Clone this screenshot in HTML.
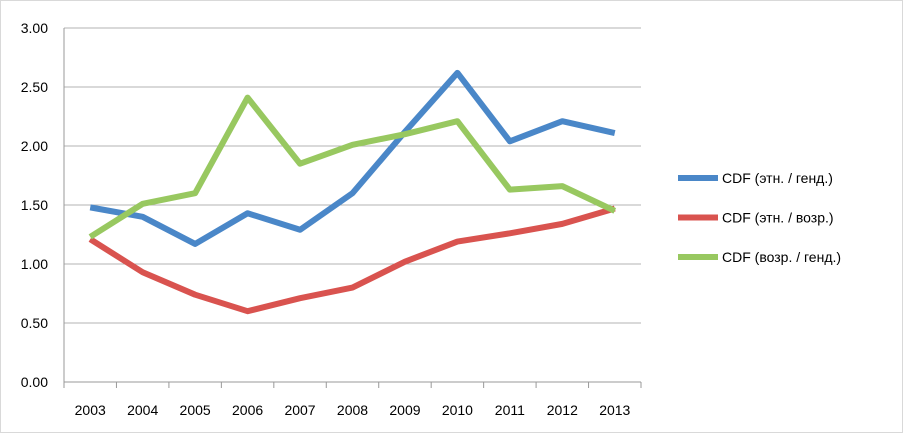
<!DOCTYPE html>
<html><head><meta charset="utf-8"><style>
body{margin:0;background:#fff;}
svg{display:block;font-family:"Liberation Sans",Arial,sans-serif;}
</style></head><body>
<svg id="c" width="903" height="433">
<rect x="0.5" y="0.5" width="902" height="432" fill="#fff" stroke="#d9d9d9"/>
<g id="grid"></g><g id="axes"></g><g id="series"></g><g id="legend"></g>
</svg>
<script>
const categories=["2003","2004","2005","2006","2007","2008","2009","2010","2011","2012","2013"];
const yTicks=[0,0.5,1,1.5,2,2.5,3];
const seriesNames=["CDF (этн. / генд.)","CDF (этн. / возр.)","CDF (возр. / генд.)"];
const blueValues=[1.48,1.40,1.17,1.43,1.29,1.60,2.12,2.62,2.04,2.21,2.11];
const redValues=[1.21,0.93,0.74,0.60,0.71,0.80,1.02,1.19,1.26,1.34,1.47];
const greenValues=[1.23,1.51,1.60,2.41,1.85,2.01,2.10,2.21,1.63,1.66,1.45];
const colors=["#4a87c8","#d9534f","#98c860"];
const NS="http://www.w3.org/2000/svg";
const L=64,R=641,T=28,B=382;
const bw=(R-L)/categories.length;
const x=i=>L+bw*(i+0.5);
const y=v=>B-(B-T)*v/3;
function mk(tag,attrs,parent,text){const e=document.createElementNS(NS,tag);for(const k in attrs)e.setAttribute(k,attrs[k]);if(text!==undefined)e.textContent=text;document.getElementById(parent).appendChild(e);return e;}
yTicks.forEach(t=>{
 const g=mk("line",{x1:L,x2:R,y1:y(t),y2:y(t),stroke:t===0?"#999":"#b3b3b3","stroke-width":1},"grid");
 
 
 const lb=mk("text",{x:L-16,y:y(t)+5,"text-anchor":"end","font-size":14,fill:"#000"},"axes",t.toFixed(2));
 
 
});
const ax=mk("line",{x1:L,x2:L,y1:T,y2:B,stroke:"#999"},"axes");


categories.forEach((c,i)=>{
 const tk=mk("line",{x1:L+bw*i,x2:L+bw*i,y1:B,y2:B+6,stroke:"#999"},"axes");
 
 
 const lb=mk("text",{x:x(i),y:B+33,"text-anchor":"middle","font-size":14,fill:"#000"},"axes",c);
 
 
});
const tk2=mk("line",{x1:R,x2:R,y1:B,y2:B+6,stroke:"#999"},"axes");


[blueValues,redValues,greenValues].forEach((vals,s)=>{
 const p=mk("polyline",{points:vals.map((v,i)=>x(i)+","+y(v)).join(" "),fill:"none",stroke:colors[s],"stroke-width":6,"stroke-linejoin":"round"},"series");
 
 
 const ly=178+s*39.5;
 const ll=mk("line",{x1:678,x2:718,y1:ly,y2:ly,stroke:colors[s],"stroke-width":6},"legend");
 
 
 const lt=mk("text",{x:722,y:ly+5,"font-size":14,fill:"#000"},"legend",seriesNames[s]);
 
 
});
</script>
</body></html>
